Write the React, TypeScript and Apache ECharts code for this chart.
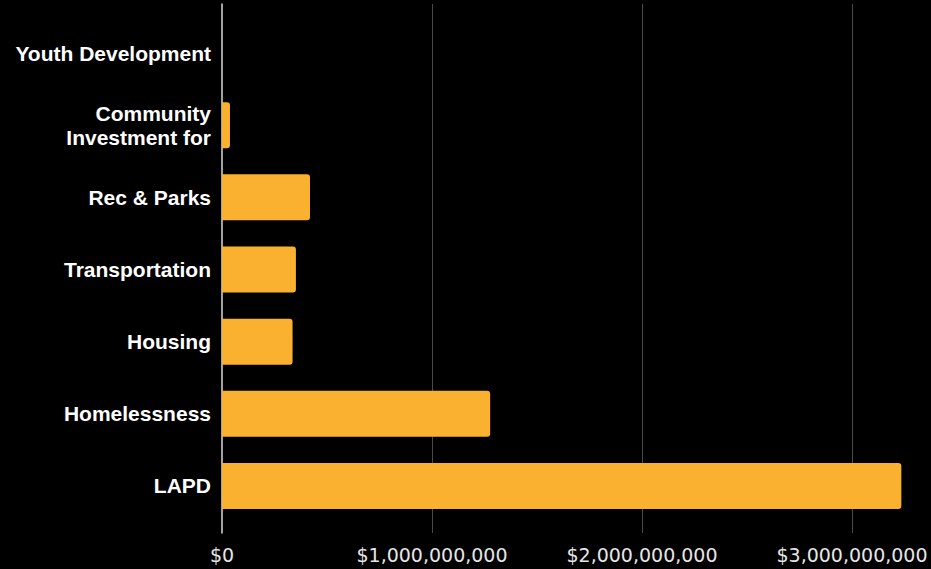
import React, { useEffect, useRef } from "react";
import * as echarts from "echarts";

const categories = [
  "Youth Development",
  "Community\nInvestment for",
  "Rec & Parks",
  "Transportation",
  "Housing",
  "Homelessness",
  "LAPD",
];
const budgetValues = [0, 38000000, 419000000, 352000000, 336000000, 1277000000, 3235000000];
const tickValues = [0, 1000000000, 2000000000, 3000000000];

const fmtMoney = (v: number) => "$" + Math.round(v).toLocaleString("en-US");

export default function App() {
  const ref = useRef<HTMLDivElement>(null);
  useEffect(() => {
    if (!ref.current) return;
    const chart = echarts.init(ref.current, undefined, { renderer: "svg" });
    const xMax = 3300000000;
    chart.setOption({
      animation: false,
      backgroundColor: "#000000",
      grid: [
        { left: 222, right: 16, top: 4, bottom: 36 },
        { left: 222, right: 16, top: 17, bottom: 47 },
      ],
      xAxis: [
        {
          type: "value",
          gridIndex: 0,
          min: 0,
          max: xMax,
          interval: tickValues[1] - tickValues[0],
          axisLine: { show: false },
          axisTick: { show: false },
          splitLine: {
            show: true,
            showMinLine: false,
            showMaxLine: false,
            lineStyle: { color: "#4a4a4a", width: 1 },
          },
          axisLabel: {
            color: "#e6e6e6",
            fontFamily: "DejaVu Sans",
            fontSize: 19,
            margin: 12,
            showMaxLabel: false,
            formatter: (v: number) => (v % 1000000000 === 0 ? fmtMoney(v) : ""),
          },
        },
        {
          type: "value",
          gridIndex: 1,
          min: 0,
          max: xMax,
          show: false,
        },
      ],
      yAxis: [
        {
          type: "value",
          gridIndex: 0,
          axisLine: { show: true, onZero: false, lineStyle: { color: "#d8d8d8", width: 1.5 } },
          axisTick: { show: false },
          axisLabel: { show: false },
          splitLine: { show: false },
        },
        {
          type: "category",
          gridIndex: 1,
          inverse: true,
          data: categories,
          axisLine: { show: false },
          axisTick: { show: false },
          splitLine: { show: false },
          axisLabel: {
            color: "#ffffff",
            fontFamily: "Liberation Sans, Arial, sans-serif",
            fontWeight: "bold",
            fontSize: 21,
            lineHeight: 24,
            margin: 11,
            align: "right",
          },
        },
      ],
      series: [
        {
          type: "bar",
          xAxisIndex: 1,
          yAxisIndex: 1,
          data: budgetValues,
          barWidth: 46,
          itemStyle: { color: "#FAB12F", borderRadius: [0, 3, 3, 0] },
        },
      ],
    });
    return () => chart.dispose();
  }, []);
  return (
    <div
      ref={ref}
      style={{ position: "fixed", left: 0, top: 0, width: 931, height: 569 }}
    />
  );
}
